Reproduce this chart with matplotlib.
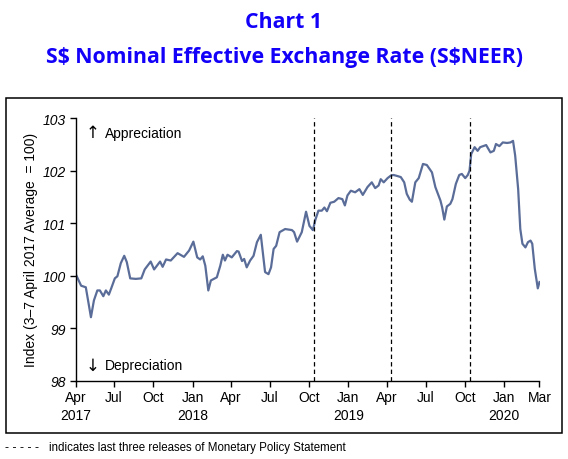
import matplotlib
matplotlib.use('Agg')
import matplotlib.pyplot as plt
import matplotlib.patches as patches
import matplotlib.transforms as mtransforms
import pandas as pd

# S$NEER weekly-ish readings
# days after 3 April 2017
days = [0, 12, 23, 35, 42, 50, 56, 64, 70, 77, 83, 91, 97, 105, 113, 119, 127, 140,
        153, 161, 175, 183, 197, 203, 211, 222, 238, 253, 265, 275, 284, 291, 297,
        303, 310, 316, 330, 338, 344, 349, 355, 365, 377, 381, 389, 394, 400, 408,
        416, 424, 433, 443, 451, 457, 463, 469, 477, 490, 506, 511, 518, 529, 539,
        547, 555, 561, 568, 576, 582, 588, 596, 605, 615, 624, 630, 636, 644, 654,
        664, 672, 683, 693, 701, 709, 714, 721, 730, 738, 744, 753, 761, 769, 775,
        782, 787, 795, 803, 813, 822, 834, 842, 854, 858, 863, 869, 877, 882, 890,
        898, 904, 912, 918, 922, 926, 934, 941, 947, 961, 971, 979, 984, 992, 1000,
        1010, 1018, 1024, 1029, 1036, 1041, 1046, 1053, 1059, 1065, 1069, 1075,
        1082, 1086]
neer = [100.02, 99.81, 99.78, 99.21, 99.53, 99.72, 99.72, 99.61, 99.72, 99.64, 99.77,
        99.95, 99.99, 100.24, 100.38, 100.26, 99.95, 99.94, 99.95, 100.12, 100.27,
        100.12, 100.27, 100.17, 100.31, 100.29, 100.43, 100.36, 100.48, 100.65,
        100.35, 100.31, 100.37, 100.19, 99.72, 99.91, 99.97, 100.19, 100.40, 100.29,
        100.40, 100.35, 100.47, 100.46, 100.28, 100.32, 100.16, 100.29, 100.38,
        100.64, 100.78, 100.07, 100.03, 100.16, 100.51, 100.57, 100.83, 100.89,
        100.87, 100.83, 100.65, 100.83, 101.22, 100.95, 100.87, 101.07, 101.24,
        101.24, 101.30, 101.23, 101.39, 101.41, 101.48, 101.46, 101.34, 101.53,
        101.62, 101.59, 101.65, 101.54, 101.69, 101.78, 101.67, 101.72, 101.84,
        101.78, 101.86, 101.91, 101.92, 101.90, 101.88, 101.78, 101.56, 101.45,
        101.41, 101.78, 101.86, 102.13, 102.11, 101.97, 101.69, 101.43, 101.30,
        101.07, 101.32, 101.37, 101.46, 101.75, 101.92, 101.94, 101.86, 101.92,
        102.00, 102.32, 102.45, 102.38, 102.45, 102.49, 102.35, 102.38, 102.51,
        102.47, 102.54, 102.53, 102.54, 102.57, 102.29, 101.65, 100.89, 100.61,
        100.54, 100.64, 100.67, 100.61, 100.13, 99.76, 99.88]

mps_dates = ['2018-10-12', '2019-04-12', '2019-10-14']
quarter_ticks = ['2017-07-01', '2017-10-01', '2018-01-01', '2018-04-01', '2018-07-01',
                 '2018-10-01', '2019-01-01', '2019-04-01', '2019-07-01', '2019-10-01',
                 '2020-01-01']
month_labels = ['Apr', 'Jul', 'Oct', 'Jan', 'Apr', 'Jul', 'Oct', 'Jan', 'Apr', 'Jul',
                'Oct', 'Jan', 'Mar']
year_labels = ['2017', '2018', '2019', '2020']
y_ticks = [98, 99, 100, 101, 102, 103]

title_col = '#1200F8'
line_col = '#5A6C98'

start = pd.Timestamp('2017-04-03')
dates = start + pd.to_timedelta(days, unit='D')

W, H = 568, 460
fig = plt.figure(figsize=(W / 100, H / 100), dpi=100)

# outer box round the chart
fig.add_artist(patches.Rectangle((6 / W, 1 - 434 / H), 556 / W, 335 / H,
                                 transform=fig.transFigure, fill=False,
                                 ec='black', lw=1.1))

ax = fig.add_axes([76 / W, 1 - 381.7 / H, (539.5 - 76) / W, (381.7 - 119.3) / H])
ax.plot(dates, neer, color=line_col, lw=1.6, solid_joinstyle='round')

for d in mps_dates:
    ax.axvline(pd.Timestamp(d), color='black', lw=0.9, ls=(0, (3.5, 2.5)))

ax.set_xlim(dates[0], dates[-1])
ax.set_ylim(98, 103)
for s in ['top', 'right']:
    ax.spines[s].set_visible(False)
for s in ['left', 'bottom']:
    ax.spines[s].set_linewidth(1.0)

xt = [dates[0]] + [pd.Timestamp(q) for q in quarter_ticks] + [dates[-1]]
ax.set_xticks(xt)
ax.set_xticklabels(month_labels, fontfamily='Liberation Sans', fontsize=10)
ax.tick_params(axis='x', direction='out', length=4, width=1, pad=3)

ax.set_yticks(y_ticks)
ax.set_yticklabels([str(v) for v in y_ticks], fontfamily='Liberation Sans',
                   fontsize=10, style='italic')
ax.tick_params(axis='y', direction='out', length=4, width=1, pad=3)

# year row under the month labels
trans = mtransforms.blended_transform_factory(ax.transData, ax.transAxes)
year_pos = [dates[0], pd.Timestamp('2018-01-01'), pd.Timestamp('2019-01-01'),
            pd.Timestamp('2020-01-01')]
for xp, lab in zip(year_pos, year_labels):
    ax.text(xp, -0.13, lab, transform=trans, ha='center', va='center',
            fontfamily='Liberation Sans', fontsize=10)

fig.text(31 / W, 1 - 250 / H, 'Index (3\u20137 April 2017 Average  = 100)',
         rotation=90, ha='center', va='center', fontfamily='Liberation Sans',
         fontsize=10)

# appreciation / depreciation hints
fig.text(93 / W, 1 - 133 / H, '\u2191', ha='center', va='center', fontsize=12,
         fontfamily='DejaVu Sans')
fig.text(105 / W, 1 - 134 / H, 'Appreciation', ha='left', va='center',
         fontfamily='Liberation Sans', fontsize=10)
fig.text(93 / W, 1 - 366 / H, '\u2193', ha='center', va='center', fontsize=12,
         fontfamily='DejaVu Sans')
fig.text(105 / W, 1 - 366 / H, 'Depreciation', ha='left', va='center',
         fontfamily='Liberation Sans', fontsize=10)

fig.text(0.5, 1 - 22 / H, 'Chart 1', ha='center', va='center', color=title_col,
         fontsize=15.3, fontweight='bold', fontfamily='Open Sans')
fig.text(0.5, 1 - 57 / H, r'S\$ Nominal Effective Exchange Rate (S\$NEER)', ha='center',
         va='center', color=title_col, fontsize=15.3, fontweight='bold',
         fontfamily='Open Sans')

fig.text(5 / W, 1 - 448 / H, '- - - - -', ha='left', va='center',
         fontfamily='Liberation Sans', fontsize=9)
fig.text(49 / W, 1 - 448 / H,
         'indicates last three releases of Monetary Policy Statement',
         ha='left', va='center', fontfamily='Liberation Sans', fontsize=8.3)

fig.savefig('out.png', dpi=100)
